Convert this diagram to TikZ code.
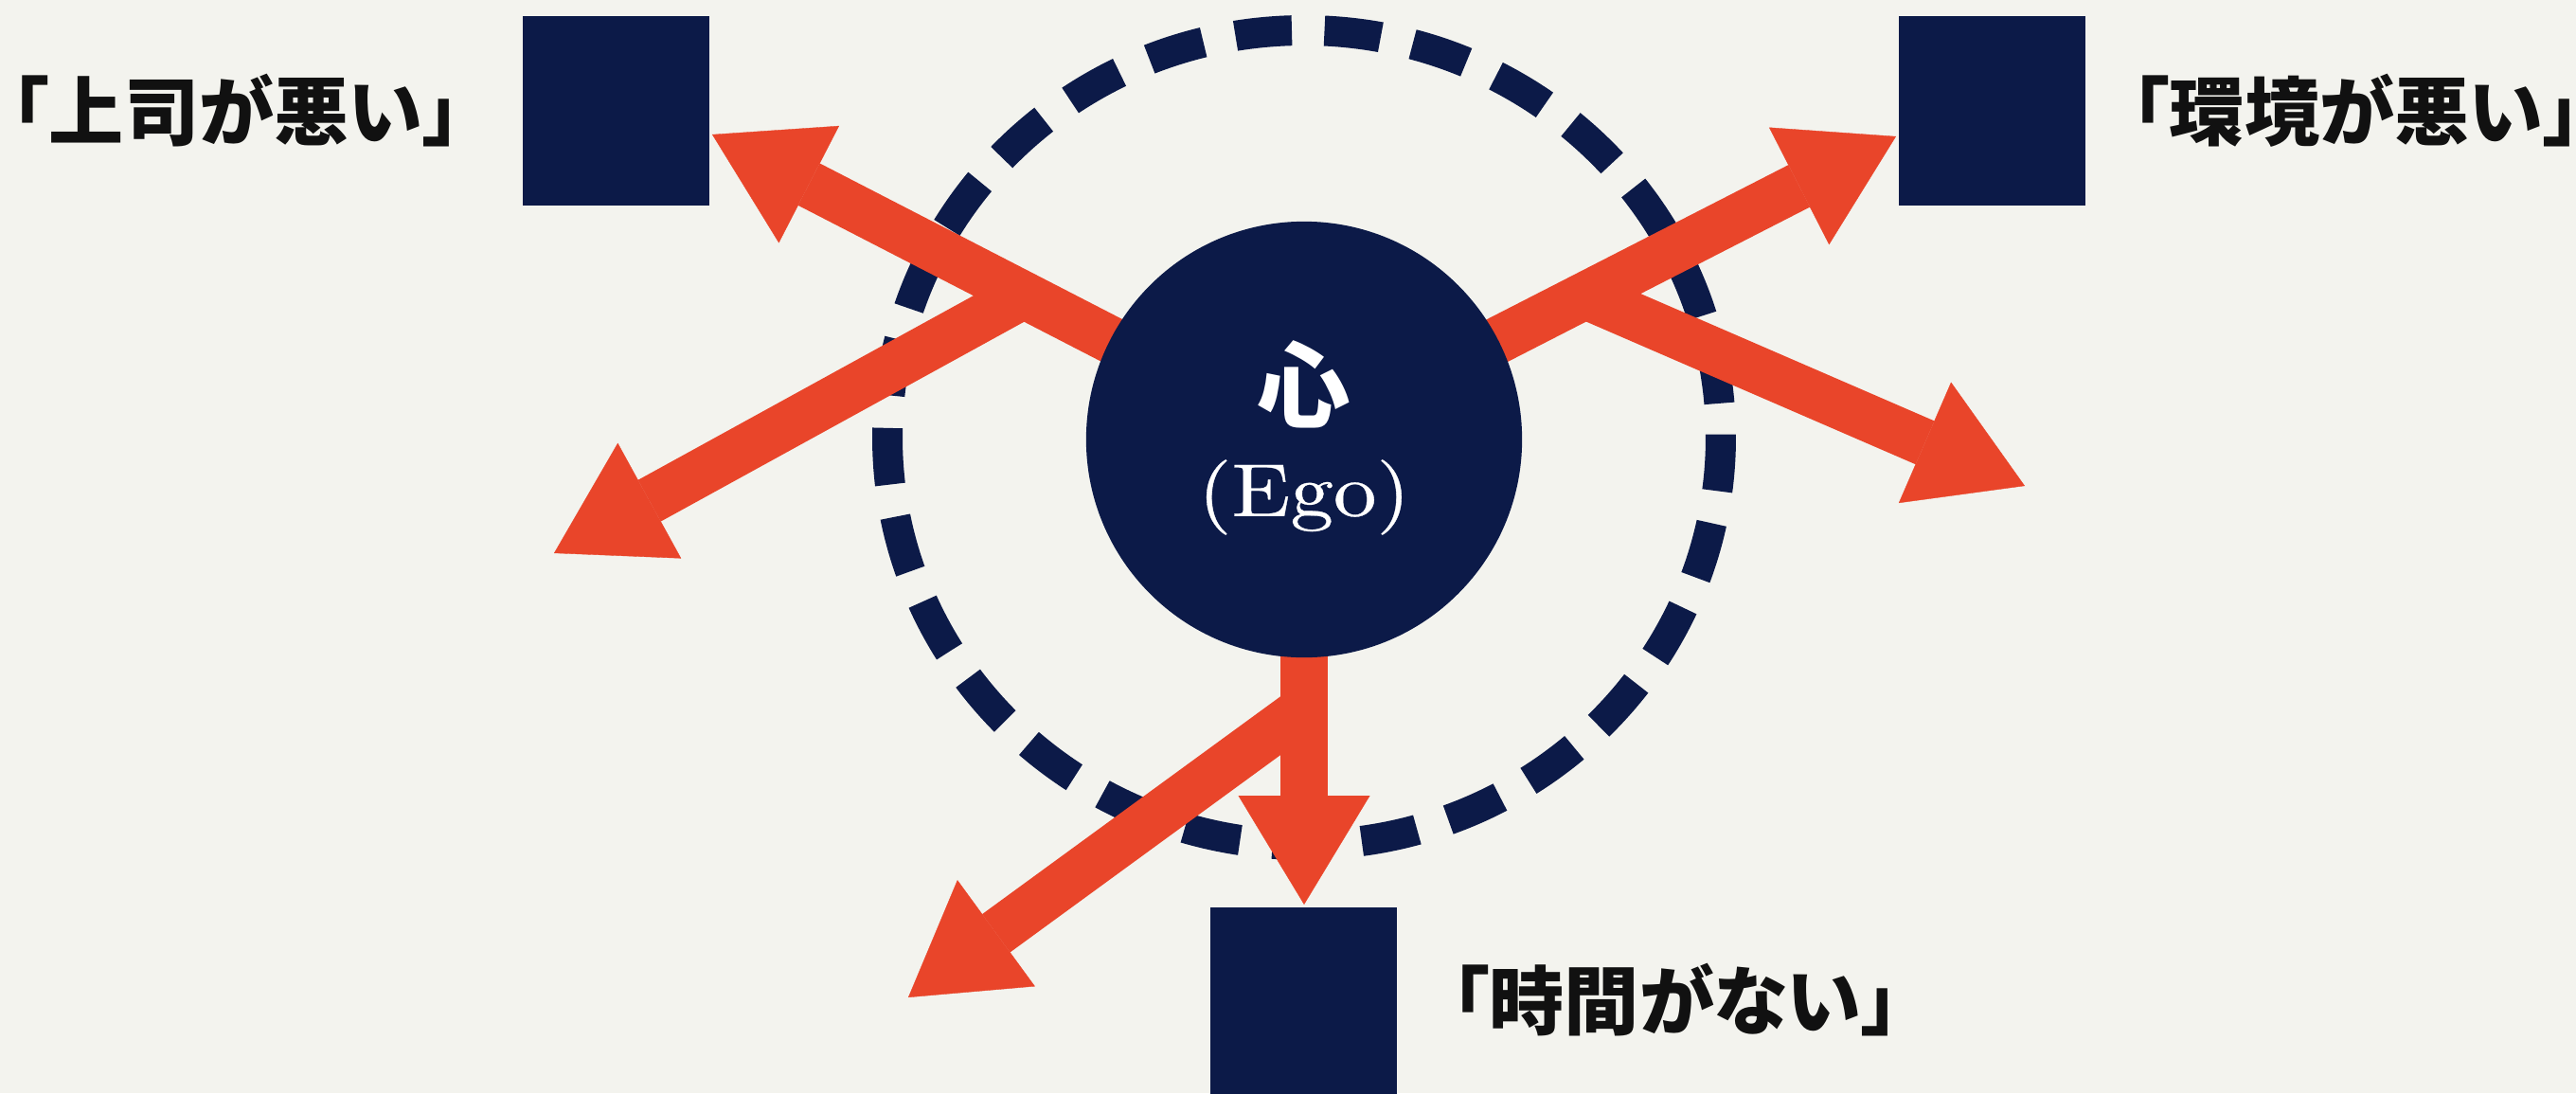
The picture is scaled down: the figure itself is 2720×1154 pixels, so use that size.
\documentclass[tikz,border=0pt]{standalone}
\usepackage{fontspec}
\newfontfamily\jp{Noto Sans CJK JP}
\newfontfamily\jplbl{Noto Sans CJK JP}[RawFeature=+palt]
\newfontfamily\egofont{lmroman10-regular}[Extension=.otf,FakeBold=0.4]
\usetikzlibrary{arrows.meta,calc}
\definecolor{bg}{HTML}{F3F3EE}
\definecolor{navy}{HTML}{0C1A48}
\definecolor{org}{HTML}{E9452A}
\definecolor{inkc}{HTML}{111111}
\begin{document}
\begin{tikzpicture}[x=0.01cm,y=-0.01cm,
  sqbox/.style={rectangle,fill=navy,inner sep=0pt,minimum width=56.05pt,minimum height=56.9pt},
  egobox/.style={circle,fill=navy,inner sep=0pt,minimum size=130.9pt},
  ring/.style={draw=navy,line width=9.1pt,dash pattern=on 17.0pt off 9.82pt},
  arr/.style={draw=org,line width=14.2pt,-{Triangle[length=32.7pt,width=39.5pt,line width=0.1pt]}},
  lbl/.style={inner sep=0pt,text=inkc,font=\jplbl\bfseries\fontsize{22.5}{27}\selectfont},
  egokanji/.style={inner sep=0pt,text=white,font=\jp\bfseries\fontsize{28}{32}\selectfont},
  egolatin/.style={inner sep=0pt,text=white,font=\egofont\fontsize{22.5}{27}\selectfont}]
\fill[bg] (0,0) rectangle (2720,1154);
\useasboundingbox (0,0) rectangle (2720,1154);
\coordinate (egoc) at (1377,464);
\coordinate (ringc) at (1377,462);
% dashed ring
\draw[ring] ($(ringc)+(-0.44:440 and 430)$) arc[start angle=-0.44, delta angle=360, x radius=440, y radius=430];
% arrow end points
\coordinate (tTL) at (752,142);
\coordinate (jTL) at (1080,312);
\coordinate (bTL) at (585,584);
\coordinate (tTR) at (2002,144);
\coordinate (jTR) at (1674,312);
\coordinate (bTR) at (2138,513);
\coordinate (tB) at (1377,955);
\coordinate (jB) at (1377,748);
\coordinate (bB) at (959,1053);
% arrows
\draw[arr] (egoc) -- (tTL);
\draw[arr] (jTL) -- (bTL);
\draw[arr] (egoc) -- (tTR);
\draw[arr] (jTR) -- (bTR);
\draw[arr] (egoc) -- (tB);
\draw[arr] (jB) -- (bB);
% centre
\node[egobox] (ego) at (egoc) {};
\node[egokanji] (egoK) at (1377,406) {心};
\node[egolatin] (egoE) at (1377,525) {\scalebox{1.15}[1]{(Ego)}};
% squares
\node[sqbox] (sqTL) at (650.5,117) {};
\node[sqbox] (sqTR) at (2103.5,117) {};
\node[sqbox] (sqB) at (1376.5,1058) {};
% labels
\node[lbl] (lTL) at (249,117) {「上司が悪い」};
\node[lbl] (lTR) at (2488,117) {「環境が悪い」};
\node[lbl] (lB) at (1769,1056) {「時間がない」};
\end{tikzpicture}
\end{document}
